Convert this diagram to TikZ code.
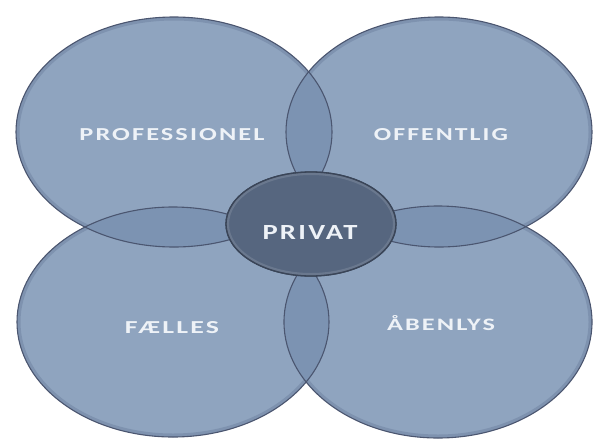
\documentclass[tikz,border=0pt]{standalone}
\usepackage{fontspec}
\setmainfont{Carlito}
\newfontfamily\labfont{Carlito}[LetterSpace=8]
\usetikzlibrary{shapes.geometric}
\definecolor{mainfill}{HTML}{8FA4BF}
\definecolor{lensfill}{HTML}{7C93B2}
\definecolor{rimcol}{HTML}{5F7392}
\definecolor{edgecol}{HTML}{4B5670}
\definecolor{privfill}{HTML}{56667F}
\definecolor{privedge}{HTML}{3A4558}
\definecolor{labcol}{HTML}{EEF2F7}
\tikzset{
  bigell/.style={ellipse, inner sep=0pt, fill=mainfill},
  edgeline/.style={draw=edgecol, line width=1.1pt},
  lens/.style={fill=lensfill},
  rim/.style={draw=rimcol, line width=7pt, opacity=0.35},
  lab/.style={text=labcol, inner sep=0pt, font=\labfont\bfseries},
}
\newcommand\eTL{(174,132) ellipse [x radius=158pt, y radius=115pt]}
\newcommand\eTR{(439,132) ellipse [x radius=153pt, y radius=115pt]}
\newcommand\eBL{(173,322) ellipse [x radius=156pt, y radius=115pt]}
\newcommand\eBR{(438,322) ellipse [x radius=154pt, y radius=116pt]}
\newcommand\ePR{(311,224) ellipse [x radius=85pt, y radius=52pt]}
\begin{document}
\begin{tikzpicture}[x=1pt,y=-1pt]
\useasboundingbox (0,0) rectangle (596,442);
\fill[white] (0,0) rectangle (596,442);
% base ellipses as named nodes
\node[bigell, minimum width=316pt, minimum height=230pt] (tl) at (174,132) {};
\node[bigell, minimum width=306pt, minimum height=230pt] (tr) at (439,132) {};
\node[bigell, minimum width=312pt, minimum height=230pt] (bl) at (173,322) {};
\node[bigell, minimum width=308pt, minimum height=232pt] (br) at (438,322) {};
% inner rims (bevel)
\begin{scope}\clip \eTL; \path[rim] \eTL; \end{scope}
\begin{scope}\clip \eTR; \path[rim] \eTR; \end{scope}
\begin{scope}\clip \eBL; \path[rim] \eBL; \end{scope}
\begin{scope}\clip \eBR; \path[rim] \eBR; \end{scope}
% overlap lenses
\begin{scope}\clip \eTL; \fill[lens] \eTR; \end{scope}
\begin{scope}\clip \eTL; \fill[lens] \eBL; \end{scope}
\begin{scope}\clip \eTR; \fill[lens] \eBR; \end{scope}
\begin{scope}\clip \eBL; \fill[lens] \eBR; \end{scope}
% outlines
\path[edgeline] \eTL;
\path[edgeline] \eTR;
\path[edgeline] \eBL;
\path[edgeline] \eBR;
% centre ellipse
\node[ellipse, inner sep=0pt, minimum width=170pt, minimum height=104pt,
      fill=privfill, draw=privedge, line width=1.3pt] (pr) at (311,224) {};
\begin{scope}\clip \ePR; \path[draw=white, line width=6pt, opacity=0.12] \ePR; \end{scope}
\path[draw=privedge, line width=1.3pt] \ePR;
% labels
\node[lab] (lprof) at (172,135) {\resizebox{185pt}{12pt}{PROFESSIONEL}};
\node[lab] (loff) at (441,135) {\resizebox{134pt}{12pt}{OFFENTLIG}};
\node[lab] (lfael) at (172,328) {\resizebox{94pt}{12pt}{FÆLLES}};
\node[lab, anchor=base] (laab) at (441,330) {\resizebox{108pt}{15pt}{ÅBENLYS}};
\node[lab] (lpriv) at (310,232) {\resizebox{95pt}{14pt}{PRIVAT}};
\end{tikzpicture}
\end{document}
